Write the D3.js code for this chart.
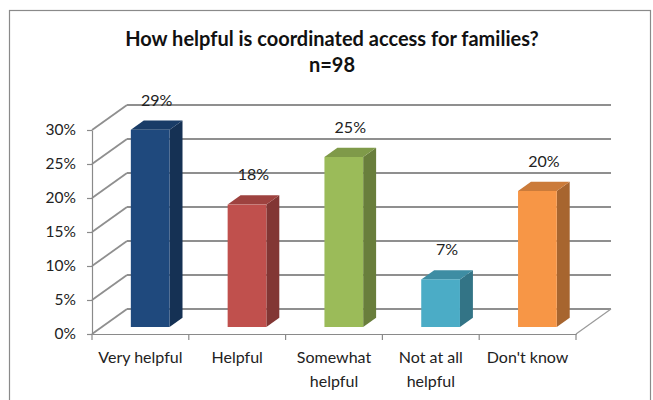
<!DOCTYPE html>
<html>
<head>
<meta charset="utf-8">
<script src="https://cdn.jsdelivr.net/npm/d3@7/dist/d3.min.js"></script>
<style>
  html, body { margin: 0; padding: 0; background: #fff; }
  svg { display: block; font-family: Lato, "Open Sans", sans-serif; }
</style>
</head>
<body>
<svg id="chart" width="653" height="400"></svg>
<script>
// Survey responses
const categories = ["Very helpful", "Helpful", "Somewhat helpful", "Not at all helpful", "Don't know"];
const shares = [0.29, 0.18, 0.25, 0.07, 0.20];
const barColors = ["#1F497D", "#C0504D", "#9BBB59", "#4BACC6", "#F79646"];
const yTicks = [0, 0.05, 0.10, 0.15, 0.20, 0.25, 0.30];
const titleLines = ["How helpful is coordinated access for families?", "n=98"];

const svg = d3.select("#chart");

// Chart frame
svg.append("rect")
  .attr("x", 9.5).attr("y", 10.5)
  .attr("width", 641).attr("height", 420)
  .attr("fill", "#fff").attr("stroke", "#8a8a8a").attr("stroke-width", 1.2);

// Title
const title = svg.append("text")
  .attr("text-anchor", "middle")
  .attr("font-weight", "bold").attr("font-size", 20).attr("fill", "#111");
titleLines.forEach((t, i) => {
  title.append("tspan").attr("x", 332).attr("y", 46 + i * 26).text(t);
});

// Plot geometry: front face plane plus a depth offset for the 3D walls
const x = d3.scaleBand().domain(categories).range([92, 576]);
const y = d3.scaleLinear().domain([0, 0.30]).range([334, 130]);
const depth = { dx: 35, dy: -25 };
const barFront = 0.28, barBack = 0.65;
const barW = x.bandwidth() / 2.5;
const proj = (px, py, d) => [px + d * depth.dx, py + d * depth.dy];

const gridColor = "#8f8f8f";
const walls = svg.append("g").attr("fill", "none");

// Back wall gridlines and side wall diagonals
yTicks.forEach(v => {
  const [bx0, by] = proj(x.range()[0], y(v), 1);
  const [bx1] = proj(x.range()[1], y(v), 1);
  walls.append("line")
    .attr("x1", bx0).attr("y1", by).attr("x2", bx1).attr("y2", by)
    .attr("stroke", gridColor).attr("stroke-width", 1.8);
  walls.append("line")
    .attr("x1", x.range()[0]).attr("y1", y(v)).attr("x2", bx0).attr("y2", by)
    .attr("stroke", gridColor).attr("stroke-width", 1.8);
});

// Floor edge on the right
{
  const [fx, fy] = proj(x.range()[1], y(0), 1);
  walls.append("line")
    .attr("x1", x.range()[1]).attr("y1", y(0)).attr("x2", fx).attr("y2", fy)
    .attr("stroke", "#9a9a9a").attr("stroke-width", 1.2);
}

// Value axis
const yAxis = svg.append("g")
  .attr("transform", "translate(92,0)")
  .call(d3.axisLeft(y).tickValues(yTicks).tickFormat(d3.format(".0%"))
    .tickSize(5).tickSizeOuter(0).tickPadding(11));
yAxis.select(".domain").attr("stroke", "#8a8a8a").attr("stroke-width", 1.2);
yAxis.selectAll(".tick line").attr("stroke", "#8a8a8a").attr("stroke-width", 1.2);
yAxis.selectAll("text").attr("font-size", 15.5).attr("fill", "#222")
  .attr("font-family", "Lato, 'Open Sans', sans-serif");

// Category axis (ticks at band boundaries)
const xAxis = svg.append("g")
  .attr("transform", `translate(0,${y(0)})`)
  .call(d3.axisBottom(x).tickSize(0).tickPadding(18).tickSizeOuter(0));
xAxis.select(".domain").attr("stroke", "#8a8a8a").attr("stroke-width", 1.2);
const bounds = categories.map(c => x(c)).concat([x.range()[1]]);
xAxis.selectAll(".boundary").data(bounds).join("line")
  .attr("class", "boundary")
  .attr("x1", d => d).attr("x2", d => d).attr("y1", 0).attr("y2", 6)
  .attr("stroke", "#8a8a8a").attr("stroke-width", 1.2);
xAxis.selectAll(".tick text")
  .attr("font-size", 16).attr("fill", "#222")
  .attr("font-family", "Lato, 'Open Sans', sans-serif")
  .each(function () { wrap(d3.select(this), x.bandwidth() - 2); });

function wrap(text, width) {
  const words = text.text().split(/\s+/);
  const yAttr = text.attr("y"), dy = parseFloat(text.attr("dy")) || 0;
  text.text(null);
  let line = [], lineNo = 0;
  let tspan = text.append("tspan").attr("x", 0).attr("y", yAttr).attr("dy", dy + "em");
  words.forEach(w => {
    line.push(w);
    tspan.text(line.join(" "));
    if (tspan.node().getComputedTextLength() > width && line.length > 1) {
      line.pop();
      tspan.text(line.join(" "));
      line = [w];
      lineNo++;
      tspan = text.append("tspan").attr("x", 0).attr("y", yAttr)
        .attr("dy", (lineNo * 1.45 + dy) + "em").text(w);
    }
  });
}

// 3D columns
const bars = svg.append("g");
categories.forEach((c, i) => {
  const v = shares[i];
  const base = d3.color(barColors[i]);
  const left = x(c) + (x.bandwidth() - barW) / 2;
  const right = left + barW;
  const [fl, ft] = proj(left, y(v), barFront);
  const [fr, fb] = proj(right, y(0), barFront);
  const [br, bt] = proj(right, y(v), barBack);
  const [, bb] = proj(right, y(0), barBack);
  const [bl] = proj(left, y(v), barBack);
  const g = bars.append("g");
  // side face
  g.append("path")
    .attr("d", `M${fr},${ft}L${br},${bt}L${br},${bb}L${fr},${fb}Z`)
    .attr("fill", base.darker(1.1).formatHex());
  // top face
  g.append("path")
    .attr("d", `M${fl},${ft}L${bl},${bt}L${br},${bt}L${fr},${ft}Z`)
    .attr("fill", base.darker(0.55).formatHex());
  // front face
  g.append("rect")
    .attr("x", fl).attr("y", ft).attr("width", fr - fl).attr("height", fb - ft)
    .attr("fill", base.formatHex());
  // value label
  g.append("text")
    .attr("x", (fl + br) / 2).attr("y", bt - 15)
    .attr("text-anchor", "middle").attr("font-size", 16).attr("fill", "#222")
    .text(d3.format(".0%")(v));
});
</script>
</body>
</html>
